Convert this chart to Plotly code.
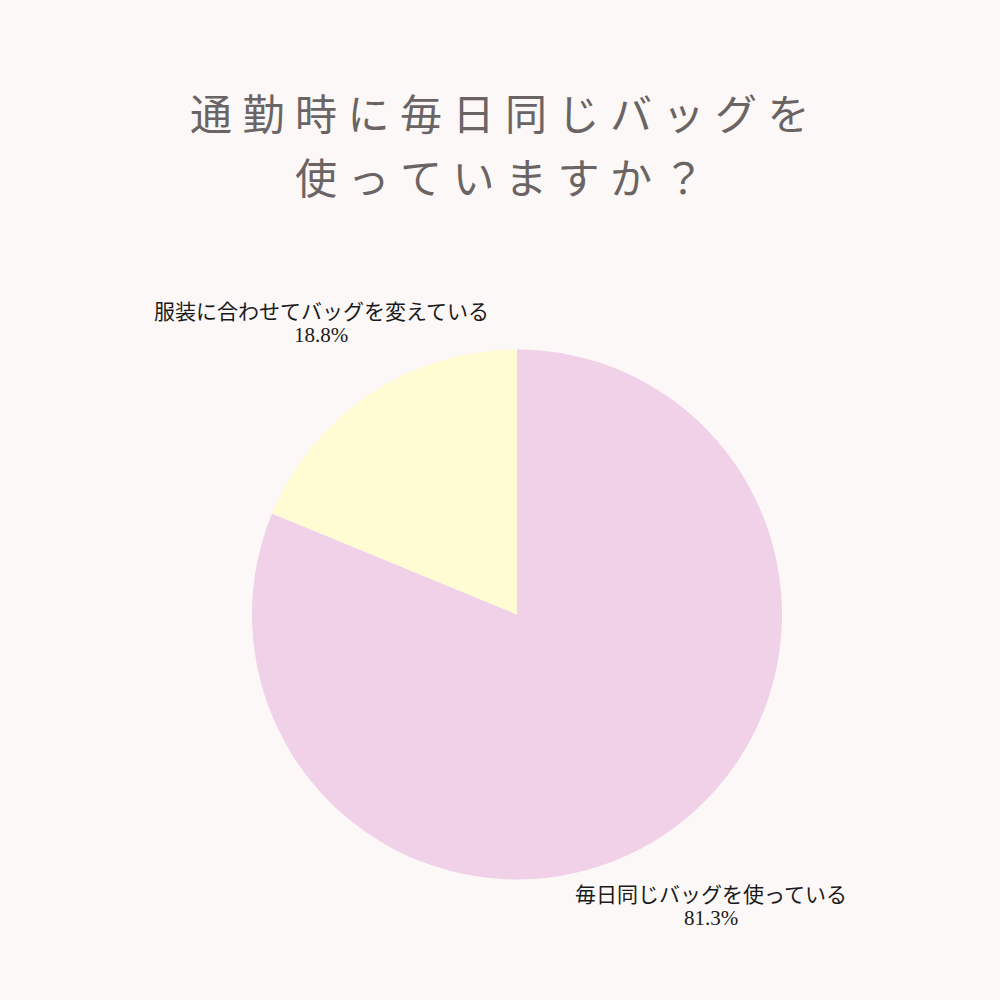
import plotly.graph_objects as go

labels = ["毎日同じバッグを使っている", "服装に合わせてバッグを変えている"]
values = [81.3, 18.8]
colors = ["#f0d1e8", "#fffbd3"]
title_lines = ["通勤時に毎日同じバッグを", "使っていますか？"]

def spaced(s):
    return "\u2005".join(s)

fig = go.Figure()
fig.add_trace(go.Pie(
    labels=labels,
    values=values,
    sort=False,
    direction="clockwise",
    rotation=0,
    marker=dict(colors=colors, line=dict(width=0)),
    textinfo="none",
    hoverinfo="label+value",
    showlegend=False,
    domain=dict(x=[0.252, 0.782], y=[0.12, 0.651]),
))

jp = "Noto Sans CJK JP"
serif = "Liberation Serif"

# Title
for i, line in enumerate(title_lines):
    fig.add_annotation(
        x=0.5, y=1 - (0.112 + 0.063 * i), xref="paper", yref="paper",
        text=spaced(line), showarrow=False,
        font=dict(family=jp, size=42, color="#6b6464"),
        xanchor="center", yanchor="middle",
    )

# Slice labels
label_pos = {1: (0.321, 0.310, 0.335), 0: (0.711, 0.893, 0.918)}
for idx, (lx, ly, py) in label_pos.items():
    fig.add_annotation(
        x=lx, y=1 - ly, xref="paper", yref="paper",
        text=labels[idx], showarrow=False,
        font=dict(family=jp, size=21, color="#1a1a1a"),
        xanchor="center", yanchor="middle",
    )
    fig.add_annotation(
        x=lx, y=1 - py, xref="paper", yref="paper",
        text=f"{values[idx]}%", showarrow=False,
        font=dict(family=serif, size=21, color="#1a1a1a"),
        xanchor="center", yanchor="middle",
    )

fig.update_layout(
    width=1000, height=1000,
    margin=dict(l=0, r=0, t=0, b=0),
    paper_bgcolor="#fcf8f7",
    plot_bgcolor="#fcf8f7",
)

fig.write_html(
    "out.html",
    config={"displayModeBar": False},
    post_script="document.body.style.margin='0';document.body.style.background='#fcf8f7';document.body.style.overflow='hidden';",
)
